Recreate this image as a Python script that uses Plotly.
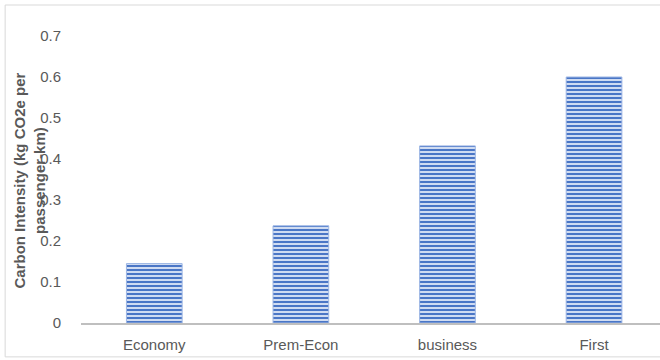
import plotly.graph_objects as go

categories = ["Economy", "Prem-Econ", "business", "First"]
values = [0.145, 0.237, 0.432, 0.6]
y_ticks = [0, 0.1, 0.2, 0.3, 0.4, 0.5, 0.6, 0.7]
y_ticktext = ["0", "0.1", "0.2", "0.3", "0.4", "0.5", "0.6", "0.7"]

fig = go.Figure()
fig.add_trace(go.Bar(
    x=list(range(len(categories))),
    y=values,
    width=0.38,
    marker=dict(
        color="#c3d3ef",
        line=dict(color="#9db6e4", width=1),
        pattern=dict(shape="-", fgcolor="#4a76c6", bgcolor="#d0dcf2", fgopacity=1,
                     size=4, solidity=0.5, fillmode="replace"),
    ),
))

fig.update_layout(
    width=660, height=360,
    margin=dict(l=81, r=0, t=36, b=37),
    paper_bgcolor="white", plot_bgcolor="white",
    showlegend=False,
    font=dict(family="Liberation Sans, Arial, sans-serif", color="#595959", size=15),
    xaxis=dict(
        range=[-0.5, 3.45],
        tickmode="array", tickvals=list(range(len(categories))), ticktext=categories,
        showgrid=False, zeroline=False,
        showline=True, linecolor="#bfbfbf", linewidth=2,
        ticks="", ticklabelstandoff=7,
        tickfont=dict(size=15, color="#595959"),
    ),
    yaxis=dict(
        range=[0, 0.7],
        tickmode="array", tickvals=y_ticks, ticktext=y_ticktext,
        showgrid=False, zeroline=False, showline=False,
        ticks="", ticklabelstandoff=19,
        tickfont=dict(size=15, color="#595959"),
    ),
    shapes=[dict(type="rect", xref="paper", yref="paper",
                 x0=-0.131, x1=1.02, y0=-0.118, y1=1.108,
                 line=dict(color="#d9d9d9", width=1), fillcolor="rgba(0,0,0,0)", layer="below")],
    annotations=[dict(
        text="<b>Carbon Intensity (kg CO2e per<br>passenger-km)</b>",
        xref="paper", yref="paper", x=-0.089, y=0.498,
        xanchor="center", yanchor="middle",
        textangle=-90, showarrow=False,
        font=dict(size=15, color="#595959", family="Liberation Sans, Arial, sans-serif"),
    )],
)

fig.write_html("out.html", config={"displayModeBar": False},
               post_script="document.body.style.margin='0';document.body.style.overflow='hidden';")
